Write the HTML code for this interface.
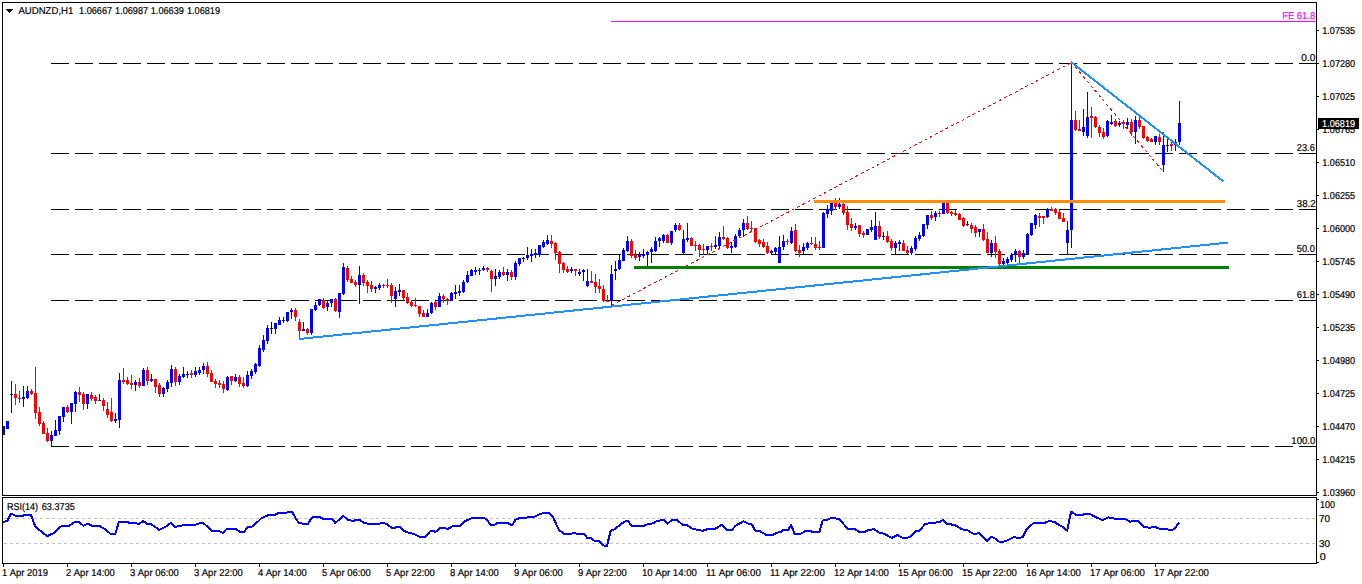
<!DOCTYPE html>
<html><head><meta charset="utf-8"><style>
html,body{margin:0;padding:0;background:#fff;overflow:hidden;}
svg{display:block;}
text{font-family:"Liberation Sans",sans-serif;text-rendering:geometricPrecision;}
</style></head><body>
<svg width="1362" height="584" viewBox="0 0 1362 584" shape-rendering="crispEdges">
<rect width="1362" height="584" fill="#fff"/>
<rect x="2" y="2" width="1315" height="1" fill="#000"/>
<rect x="2" y="495" width="1315" height="1" fill="#000"/>
<rect x="2" y="2" width="1" height="494" fill="#000"/>
<rect x="1316" y="2" width="1" height="494" fill="#000"/>
<rect x="2" y="497" width="1315" height="1" fill="#000"/>
<rect x="2" y="563" width="1315" height="1" fill="#000"/>
<rect x="2" y="497" width="1" height="67" fill="#000"/>
<rect x="1316" y="497" width="1" height="67" fill="#000"/>
<rect x="1317" y="30" width="2" height="1" fill="#000"/>
<rect x="1317" y="63" width="2" height="1" fill="#000"/>
<rect x="1317" y="96" width="2" height="1" fill="#000"/>
<rect x="1317" y="129" width="2" height="1" fill="#000"/>
<rect x="1317" y="162" width="2" height="1" fill="#000"/>
<rect x="1317" y="195" width="2" height="1" fill="#000"/>
<rect x="1317" y="228" width="2" height="1" fill="#000"/>
<rect x="1317" y="261" width="2" height="1" fill="#000"/>
<rect x="1317" y="294" width="2" height="1" fill="#000"/>
<rect x="1317" y="327" width="2" height="1" fill="#000"/>
<rect x="1317" y="360" width="2" height="1" fill="#000"/>
<rect x="1317" y="393" width="2" height="1" fill="#000"/>
<rect x="1317" y="426" width="2" height="1" fill="#000"/>
<rect x="1317" y="459" width="2" height="1" fill="#000"/>
<rect x="1317" y="492" width="2" height="1" fill="#000"/>
<rect x="1317" y="499" width="2" height="1" fill="#000"/>
<rect x="1317" y="562" width="2" height="1" fill="#000"/>
<rect x="3" y="564" width="1" height="3" fill="#000"/>
<rect x="67" y="564" width="1" height="3" fill="#000"/>
<rect x="131" y="564" width="1" height="3" fill="#000"/>
<rect x="195" y="564" width="1" height="3" fill="#000"/>
<rect x="259" y="564" width="1" height="3" fill="#000"/>
<rect x="323" y="564" width="1" height="3" fill="#000"/>
<rect x="387" y="564" width="1" height="3" fill="#000"/>
<rect x="451" y="564" width="1" height="3" fill="#000"/>
<rect x="515" y="564" width="1" height="3" fill="#000"/>
<rect x="579" y="564" width="1" height="3" fill="#000"/>
<rect x="643" y="564" width="1" height="3" fill="#000"/>
<rect x="707" y="564" width="1" height="3" fill="#000"/>
<rect x="771" y="564" width="1" height="3" fill="#000"/>
<rect x="835" y="564" width="1" height="3" fill="#000"/>
<rect x="899" y="564" width="1" height="3" fill="#000"/>
<rect x="963" y="564" width="1" height="3" fill="#000"/>
<rect x="1027" y="564" width="1" height="3" fill="#000"/>
<rect x="1091" y="564" width="1" height="3" fill="#000"/>
<rect x="1155" y="564" width="1" height="3" fill="#000"/>
<g shape-rendering="crispEdges">
<line x1="4" y1="518.5" x2="1316" y2="518.5" stroke="#c0c0c0" stroke-width="1" stroke-dasharray="3 3"/>
<line x1="4" y1="543.5" x2="1316" y2="543.5" stroke="#c0c0c0" stroke-width="1" stroke-dasharray="3 3"/>
</g>
<g shape-rendering="crispEdges">
<line x1="51" y1="63.5" x2="1316" y2="63.5" stroke="#000" stroke-width="1" stroke-dasharray="18 6"/>
<line x1="51" y1="153.5" x2="1316" y2="153.5" stroke="#000" stroke-width="1" stroke-dasharray="18 6"/>
<line x1="51" y1="209.5" x2="1316" y2="209.5" stroke="#000" stroke-width="1" stroke-dasharray="18 6"/>
<line x1="51" y1="254.5" x2="1316" y2="254.5" stroke="#000" stroke-width="1" stroke-dasharray="18 6"/>
<line x1="51" y1="300.5" x2="1316" y2="300.5" stroke="#000" stroke-width="1" stroke-dasharray="18 6"/>
<line x1="51" y1="446.5" x2="1316" y2="446.5" stroke="#000" stroke-width="1" stroke-dasharray="18 6"/>
</g>
<rect x="3" y="426" width="1" height="9" fill="#0000ff"/>
<rect x="3" y="426" width="2" height="9" fill="#0000ff"/>
<rect x="7" y="421" width="1" height="8" fill="#0000ff"/>
<rect x="6" y="421" width="3" height="8" fill="#0000ff"/>
<rect x="11" y="381" width="1" height="32" fill="#0000ff"/>
<rect x="10" y="394" width="3" height="1" fill="#0000ff"/>
<rect x="15" y="384" width="1" height="21" fill="#ff0000"/>
<rect x="14" y="394" width="3" height="4" fill="#ff0000"/>
<rect x="19" y="391" width="1" height="12" fill="#ff0000"/>
<rect x="18" y="398" width="3" height="1" fill="#ff0000"/>
<rect x="23" y="386" width="1" height="21" fill="#0000ff"/>
<rect x="22" y="397" width="3" height="2" fill="#0000ff"/>
<rect x="27" y="386" width="1" height="13" fill="#0000ff"/>
<rect x="26" y="391" width="3" height="7" fill="#0000ff"/>
<rect x="31" y="389" width="1" height="6" fill="#ff0000"/>
<rect x="30" y="391" width="3" height="3" fill="#ff0000"/>
<rect x="35" y="367" width="1" height="52" fill="#ff0000"/>
<rect x="34" y="393" width="3" height="20" fill="#ff0000"/>
<rect x="39" y="407" width="1" height="19" fill="#ff0000"/>
<rect x="38" y="412" width="3" height="12" fill="#ff0000"/>
<rect x="43" y="421" width="1" height="13" fill="#ff0000"/>
<rect x="42" y="423" width="3" height="11" fill="#ff0000"/>
<rect x="47" y="428" width="1" height="14" fill="#ff0000"/>
<rect x="46" y="433" width="3" height="8" fill="#ff0000"/>
<rect x="51" y="431" width="1" height="15" fill="#0000ff"/>
<rect x="50" y="435" width="3" height="6" fill="#0000ff"/>
<rect x="55" y="420" width="1" height="16" fill="#0000ff"/>
<rect x="54" y="430" width="3" height="6" fill="#0000ff"/>
<rect x="59" y="416" width="1" height="19" fill="#0000ff"/>
<rect x="58" y="416" width="3" height="15" fill="#0000ff"/>
<rect x="63" y="407" width="1" height="15" fill="#0000ff"/>
<rect x="62" y="407" width="3" height="10" fill="#0000ff"/>
<rect x="67" y="405" width="1" height="8" fill="#ff0000"/>
<rect x="66" y="407" width="3" height="5" fill="#ff0000"/>
<rect x="71" y="403" width="1" height="21" fill="#0000ff"/>
<rect x="70" y="403" width="3" height="9" fill="#0000ff"/>
<rect x="75" y="391" width="1" height="21" fill="#0000ff"/>
<rect x="74" y="392" width="3" height="12" fill="#0000ff"/>
<rect x="79" y="387" width="1" height="15" fill="#ff0000"/>
<rect x="78" y="392" width="3" height="3" fill="#ff0000"/>
<rect x="83" y="392" width="1" height="18" fill="#ff0000"/>
<rect x="82" y="394" width="3" height="10" fill="#ff0000"/>
<rect x="87" y="394" width="1" height="15" fill="#0000ff"/>
<rect x="86" y="394" width="3" height="10" fill="#0000ff"/>
<rect x="91" y="392" width="1" height="9" fill="#ff0000"/>
<rect x="90" y="395" width="3" height="4" fill="#ff0000"/>
<rect x="95" y="395" width="1" height="9" fill="#ff0000"/>
<rect x="94" y="397" width="3" height="4" fill="#ff0000"/>
<rect x="99" y="394" width="1" height="7" fill="#0000ff"/>
<rect x="98" y="400" width="3" height="1" fill="#0000ff"/>
<rect x="103" y="398" width="1" height="13" fill="#ff0000"/>
<rect x="102" y="400" width="3" height="6" fill="#ff0000"/>
<rect x="107" y="402" width="1" height="16" fill="#ff0000"/>
<rect x="106" y="409" width="3" height="6" fill="#ff0000"/>
<rect x="111" y="398" width="1" height="24" fill="#ff0000"/>
<rect x="110" y="412" width="3" height="9" fill="#ff0000"/>
<rect x="115" y="413" width="1" height="10" fill="#0000ff"/>
<rect x="114" y="419" width="3" height="2" fill="#0000ff"/>
<rect x="119" y="373" width="1" height="55" fill="#0000ff"/>
<rect x="118" y="380" width="3" height="40" fill="#0000ff"/>
<rect x="123" y="368" width="1" height="16" fill="#ff0000"/>
<rect x="122" y="380" width="3" height="2" fill="#ff0000"/>
<rect x="127" y="377" width="1" height="8" fill="#ff0000"/>
<rect x="126" y="380" width="3" height="4" fill="#ff0000"/>
<rect x="131" y="375" width="1" height="14" fill="#ff0000"/>
<rect x="130" y="383" width="3" height="2" fill="#ff0000"/>
<rect x="135" y="380" width="1" height="11" fill="#0000ff"/>
<rect x="134" y="382" width="3" height="3" fill="#0000ff"/>
<rect x="139" y="378" width="1" height="10" fill="#ff0000"/>
<rect x="138" y="382" width="3" height="4" fill="#ff0000"/>
<rect x="143" y="368" width="1" height="18" fill="#0000ff"/>
<rect x="142" y="370" width="3" height="16" fill="#0000ff"/>
<rect x="147" y="367" width="1" height="18" fill="#ff0000"/>
<rect x="146" y="370" width="3" height="11" fill="#ff0000"/>
<rect x="151" y="374" width="1" height="8" fill="#0000ff"/>
<rect x="150" y="379" width="3" height="2" fill="#0000ff"/>
<rect x="155" y="379" width="1" height="14" fill="#ff0000"/>
<rect x="154" y="379" width="3" height="8" fill="#ff0000"/>
<rect x="159" y="383" width="1" height="14" fill="#ff0000"/>
<rect x="158" y="385" width="3" height="9" fill="#ff0000"/>
<rect x="163" y="387" width="1" height="10" fill="#0000ff"/>
<rect x="162" y="388" width="3" height="6" fill="#0000ff"/>
<rect x="167" y="380" width="1" height="12" fill="#0000ff"/>
<rect x="166" y="382" width="3" height="7" fill="#0000ff"/>
<rect x="171" y="365" width="1" height="22" fill="#0000ff"/>
<rect x="170" y="369" width="3" height="14" fill="#0000ff"/>
<rect x="175" y="367" width="1" height="19" fill="#ff0000"/>
<rect x="174" y="369" width="3" height="13" fill="#ff0000"/>
<rect x="179" y="374" width="1" height="11" fill="#0000ff"/>
<rect x="178" y="376" width="3" height="6" fill="#0000ff"/>
<rect x="183" y="367" width="1" height="11" fill="#0000ff"/>
<rect x="182" y="374" width="3" height="3" fill="#0000ff"/>
<rect x="187" y="371" width="1" height="7" fill="#0000ff"/>
<rect x="186" y="374" width="3" height="1" fill="#0000ff"/>
<rect x="191" y="370" width="1" height="8" fill="#ff0000"/>
<rect x="190" y="373" width="3" height="2" fill="#ff0000"/>
<rect x="195" y="367" width="1" height="10" fill="#0000ff"/>
<rect x="194" y="371" width="3" height="4" fill="#0000ff"/>
<rect x="199" y="367" width="1" height="8" fill="#0000ff"/>
<rect x="198" y="370" width="3" height="3" fill="#0000ff"/>
<rect x="203" y="363" width="1" height="11" fill="#0000ff"/>
<rect x="202" y="366" width="3" height="4" fill="#0000ff"/>
<rect x="207" y="362" width="1" height="15" fill="#ff0000"/>
<rect x="206" y="366" width="3" height="8" fill="#ff0000"/>
<rect x="211" y="370" width="1" height="12" fill="#ff0000"/>
<rect x="210" y="373" width="3" height="9" fill="#ff0000"/>
<rect x="215" y="379" width="1" height="9" fill="#ff0000"/>
<rect x="214" y="381" width="3" height="3" fill="#ff0000"/>
<rect x="219" y="380" width="1" height="8" fill="#ff0000"/>
<rect x="218" y="383" width="3" height="2" fill="#ff0000"/>
<rect x="223" y="381" width="1" height="12" fill="#ff0000"/>
<rect x="222" y="384" width="3" height="5" fill="#ff0000"/>
<rect x="227" y="376" width="1" height="15" fill="#0000ff"/>
<rect x="226" y="377" width="3" height="13" fill="#0000ff"/>
<rect x="231" y="376" width="1" height="9" fill="#ff0000"/>
<rect x="230" y="376" width="3" height="5" fill="#ff0000"/>
<rect x="235" y="374" width="1" height="8" fill="#0000ff"/>
<rect x="234" y="377" width="3" height="4" fill="#0000ff"/>
<rect x="239" y="375" width="1" height="12" fill="#ff0000"/>
<rect x="238" y="377" width="3" height="7" fill="#ff0000"/>
<rect x="243" y="377" width="1" height="11" fill="#ff0000"/>
<rect x="242" y="383" width="3" height="3" fill="#ff0000"/>
<rect x="247" y="371" width="1" height="16" fill="#0000ff"/>
<rect x="246" y="375" width="3" height="11" fill="#0000ff"/>
<rect x="251" y="369" width="1" height="10" fill="#0000ff"/>
<rect x="250" y="371" width="3" height="5" fill="#0000ff"/>
<rect x="255" y="363" width="1" height="11" fill="#0000ff"/>
<rect x="254" y="364" width="3" height="8" fill="#0000ff"/>
<rect x="259" y="345" width="1" height="22" fill="#0000ff"/>
<rect x="258" y="348" width="3" height="18" fill="#0000ff"/>
<rect x="263" y="335" width="1" height="17" fill="#0000ff"/>
<rect x="262" y="340" width="3" height="10" fill="#0000ff"/>
<rect x="267" y="325" width="1" height="19" fill="#0000ff"/>
<rect x="266" y="328" width="3" height="13" fill="#0000ff"/>
<rect x="271" y="322" width="1" height="12" fill="#000000"/>
<rect x="270" y="328" width="3" height="1" fill="#000000"/>
<rect x="275" y="323" width="1" height="11" fill="#0000ff"/>
<rect x="274" y="323" width="3" height="6" fill="#0000ff"/>
<rect x="279" y="317" width="1" height="8" fill="#0000ff"/>
<rect x="278" y="320" width="3" height="5" fill="#0000ff"/>
<rect x="283" y="317" width="1" height="6" fill="#0000ff"/>
<rect x="282" y="320" width="3" height="1" fill="#0000ff"/>
<rect x="287" y="312" width="1" height="10" fill="#0000ff"/>
<rect x="286" y="312" width="3" height="9" fill="#0000ff"/>
<rect x="291" y="308" width="1" height="11" fill="#0000ff"/>
<rect x="290" y="310" width="3" height="2" fill="#0000ff"/>
<rect x="295" y="308" width="1" height="13" fill="#ff0000"/>
<rect x="294" y="310" width="3" height="7" fill="#ff0000"/>
<rect x="299" y="319" width="1" height="20" fill="#ff0000"/>
<rect x="298" y="322" width="3" height="9" fill="#ff0000"/>
<rect x="303" y="322" width="1" height="8" fill="#0000ff"/>
<rect x="302" y="329" width="3" height="2" fill="#0000ff"/>
<rect x="307" y="328" width="1" height="7" fill="#ff0000"/>
<rect x="306" y="329" width="3" height="4" fill="#ff0000"/>
<rect x="311" y="309" width="1" height="26" fill="#0000ff"/>
<rect x="310" y="309" width="3" height="24" fill="#0000ff"/>
<rect x="315" y="302" width="1" height="9" fill="#0000ff"/>
<rect x="314" y="305" width="3" height="5" fill="#0000ff"/>
<rect x="319" y="299" width="1" height="7" fill="#0000ff"/>
<rect x="318" y="299" width="3" height="6" fill="#0000ff"/>
<rect x="323" y="298" width="1" height="11" fill="#ff0000"/>
<rect x="322" y="300" width="3" height="8" fill="#ff0000"/>
<rect x="327" y="300" width="1" height="11" fill="#0000ff"/>
<rect x="326" y="303" width="3" height="4" fill="#0000ff"/>
<rect x="331" y="299" width="1" height="8" fill="#0000ff"/>
<rect x="330" y="299" width="3" height="4" fill="#0000ff"/>
<rect x="335" y="298" width="1" height="14" fill="#ff0000"/>
<rect x="334" y="299" width="3" height="12" fill="#ff0000"/>
<rect x="339" y="293" width="1" height="25" fill="#0000ff"/>
<rect x="338" y="293" width="3" height="19" fill="#0000ff"/>
<rect x="343" y="263" width="1" height="32" fill="#0000ff"/>
<rect x="342" y="267" width="3" height="27" fill="#0000ff"/>
<rect x="347" y="266" width="1" height="16" fill="#ff0000"/>
<rect x="346" y="268" width="3" height="12" fill="#ff0000"/>
<rect x="351" y="276" width="1" height="7" fill="#ff0000"/>
<rect x="350" y="279" width="3" height="4" fill="#ff0000"/>
<rect x="355" y="280" width="1" height="7" fill="#ff0000"/>
<rect x="354" y="282" width="3" height="3" fill="#ff0000"/>
<rect x="359" y="266" width="1" height="38" fill="#0000ff"/>
<rect x="358" y="275" width="3" height="10" fill="#0000ff"/>
<rect x="363" y="273" width="1" height="13" fill="#ff0000"/>
<rect x="362" y="275" width="3" height="8" fill="#ff0000"/>
<rect x="367" y="280" width="1" height="13" fill="#ff0000"/>
<rect x="366" y="282" width="3" height="4" fill="#ff0000"/>
<rect x="371" y="281" width="1" height="11" fill="#ff0000"/>
<rect x="370" y="285" width="3" height="4" fill="#ff0000"/>
<rect x="375" y="286" width="1" height="7" fill="#0000ff"/>
<rect x="374" y="287" width="3" height="2" fill="#0000ff"/>
<rect x="379" y="283" width="1" height="7" fill="#0000ff"/>
<rect x="378" y="285" width="3" height="3" fill="#0000ff"/>
<rect x="383" y="284" width="1" height="4" fill="#ff0000"/>
<rect x="382" y="285" width="3" height="1" fill="#ff0000"/>
<rect x="387" y="279" width="1" height="9" fill="#ff0000"/>
<rect x="386" y="285" width="3" height="1" fill="#ff0000"/>
<rect x="391" y="283" width="1" height="20" fill="#ff0000"/>
<rect x="390" y="285" width="3" height="11" fill="#ff0000"/>
<rect x="395" y="287" width="1" height="20" fill="#0000ff"/>
<rect x="394" y="291" width="3" height="8" fill="#0000ff"/>
<rect x="399" y="284" width="1" height="12" fill="#0000ff"/>
<rect x="398" y="290" width="3" height="2" fill="#0000ff"/>
<rect x="403" y="290" width="1" height="10" fill="#ff0000"/>
<rect x="402" y="290" width="3" height="8" fill="#ff0000"/>
<rect x="407" y="293" width="1" height="11" fill="#ff0000"/>
<rect x="406" y="297" width="3" height="6" fill="#ff0000"/>
<rect x="411" y="300" width="1" height="7" fill="#ff0000"/>
<rect x="410" y="302" width="3" height="4" fill="#ff0000"/>
<rect x="415" y="298" width="1" height="9" fill="#ff0000"/>
<rect x="414" y="305" width="3" height="1" fill="#ff0000"/>
<rect x="419" y="306" width="1" height="11" fill="#ff0000"/>
<rect x="418" y="306" width="3" height="8" fill="#ff0000"/>
<rect x="423" y="310" width="1" height="7" fill="#ff0000"/>
<rect x="422" y="313" width="3" height="4" fill="#ff0000"/>
<rect x="427" y="309" width="1" height="8" fill="#0000ff"/>
<rect x="426" y="313" width="3" height="4" fill="#0000ff"/>
<rect x="431" y="302" width="1" height="12" fill="#0000ff"/>
<rect x="430" y="303" width="3" height="10" fill="#0000ff"/>
<rect x="435" y="301" width="1" height="9" fill="#ff0000"/>
<rect x="434" y="302" width="3" height="5" fill="#ff0000"/>
<rect x="439" y="293" width="1" height="14" fill="#0000ff"/>
<rect x="438" y="296" width="3" height="11" fill="#0000ff"/>
<rect x="443" y="294" width="1" height="9" fill="#ff0000"/>
<rect x="442" y="296" width="3" height="3" fill="#ff0000"/>
<rect x="447" y="298" width="1" height="7" fill="#ff0000"/>
<rect x="446" y="299" width="3" height="2" fill="#ff0000"/>
<rect x="451" y="292" width="1" height="9" fill="#0000ff"/>
<rect x="450" y="293" width="3" height="8" fill="#0000ff"/>
<rect x="455" y="285" width="1" height="14" fill="#0000ff"/>
<rect x="454" y="292" width="3" height="2" fill="#0000ff"/>
<rect x="459" y="285" width="1" height="11" fill="#0000ff"/>
<rect x="458" y="291" width="3" height="2" fill="#0000ff"/>
<rect x="463" y="280" width="1" height="13" fill="#0000ff"/>
<rect x="462" y="282" width="3" height="10" fill="#0000ff"/>
<rect x="467" y="271" width="1" height="12" fill="#0000ff"/>
<rect x="466" y="275" width="3" height="7" fill="#0000ff"/>
<rect x="471" y="269" width="1" height="7" fill="#0000ff"/>
<rect x="470" y="270" width="3" height="6" fill="#0000ff"/>
<rect x="475" y="267" width="1" height="8" fill="#0000ff"/>
<rect x="474" y="270" width="3" height="2" fill="#0000ff"/>
<rect x="479" y="268" width="1" height="7" fill="#0000ff"/>
<rect x="478" y="270" width="3" height="1" fill="#0000ff"/>
<rect x="483" y="266" width="1" height="5" fill="#0000ff"/>
<rect x="482" y="268" width="3" height="2" fill="#0000ff"/>
<rect x="487" y="267" width="1" height="5" fill="#ff0000"/>
<rect x="486" y="268" width="3" height="2" fill="#ff0000"/>
<rect x="491" y="270" width="1" height="22" fill="#ff0000"/>
<rect x="490" y="271" width="3" height="8" fill="#ff0000"/>
<rect x="495" y="269" width="1" height="17" fill="#0000ff"/>
<rect x="494" y="276" width="3" height="3" fill="#0000ff"/>
<rect x="499" y="270" width="1" height="9" fill="#0000ff"/>
<rect x="498" y="272" width="3" height="5" fill="#0000ff"/>
<rect x="503" y="267" width="1" height="9" fill="#ff0000"/>
<rect x="502" y="272" width="3" height="3" fill="#ff0000"/>
<rect x="507" y="269" width="1" height="12" fill="#0000ff"/>
<rect x="506" y="272" width="3" height="3" fill="#0000ff"/>
<rect x="511" y="270" width="1" height="10" fill="#ff0000"/>
<rect x="510" y="272" width="3" height="5" fill="#ff0000"/>
<rect x="515" y="261" width="1" height="19" fill="#0000ff"/>
<rect x="514" y="263" width="3" height="14" fill="#0000ff"/>
<rect x="519" y="258" width="1" height="8" fill="#0000ff"/>
<rect x="518" y="258" width="3" height="6" fill="#0000ff"/>
<rect x="523" y="257" width="1" height="5" fill="#0000ff"/>
<rect x="522" y="258" width="3" height="1" fill="#0000ff"/>
<rect x="527" y="247" width="1" height="13" fill="#0000ff"/>
<rect x="526" y="255" width="3" height="3" fill="#0000ff"/>
<rect x="531" y="249" width="1" height="13" fill="#0000ff"/>
<rect x="530" y="254" width="3" height="2" fill="#0000ff"/>
<rect x="535" y="249" width="1" height="9" fill="#0000ff"/>
<rect x="534" y="253" width="3" height="2" fill="#0000ff"/>
<rect x="539" y="245" width="1" height="12" fill="#0000ff"/>
<rect x="538" y="245" width="3" height="10" fill="#0000ff"/>
<rect x="543" y="240" width="1" height="8" fill="#0000ff"/>
<rect x="542" y="242" width="3" height="5" fill="#0000ff"/>
<rect x="547" y="235" width="1" height="10" fill="#0000ff"/>
<rect x="546" y="240" width="3" height="4" fill="#0000ff"/>
<rect x="551" y="235" width="1" height="13" fill="#ff0000"/>
<rect x="550" y="241" width="3" height="3" fill="#ff0000"/>
<rect x="555" y="242" width="1" height="18" fill="#ff0000"/>
<rect x="554" y="243" width="3" height="10" fill="#ff0000"/>
<rect x="559" y="251" width="1" height="22" fill="#ff0000"/>
<rect x="558" y="252" width="3" height="12" fill="#ff0000"/>
<rect x="563" y="262" width="1" height="11" fill="#ff0000"/>
<rect x="562" y="263" width="3" height="7" fill="#ff0000"/>
<rect x="567" y="266" width="1" height="7" fill="#ff0000"/>
<rect x="566" y="269" width="3" height="3" fill="#ff0000"/>
<rect x="571" y="267" width="1" height="6" fill="#0000ff"/>
<rect x="570" y="269" width="3" height="2" fill="#0000ff"/>
<rect x="575" y="269" width="1" height="7" fill="#ff0000"/>
<rect x="574" y="269" width="3" height="2" fill="#ff0000"/>
<rect x="579" y="269" width="1" height="7" fill="#0000ff"/>
<rect x="578" y="272" width="3" height="2" fill="#0000ff"/>
<rect x="583" y="269" width="1" height="12" fill="#0000ff"/>
<rect x="582" y="270" width="3" height="2" fill="#0000ff"/>
<rect x="587" y="269" width="1" height="18" fill="#0000ff"/>
<rect x="586" y="281" width="3" height="5" fill="#0000ff"/>
<rect x="591" y="271" width="1" height="12" fill="#ff0000"/>
<rect x="590" y="281" width="3" height="2" fill="#ff0000"/>
<rect x="595" y="274" width="1" height="19" fill="#ff0000"/>
<rect x="594" y="282" width="3" height="5" fill="#ff0000"/>
<rect x="599" y="279" width="1" height="14" fill="#ff0000"/>
<rect x="598" y="286" width="3" height="3" fill="#ff0000"/>
<rect x="603" y="285" width="1" height="17" fill="#ff0000"/>
<rect x="602" y="289" width="3" height="12" fill="#ff0000"/>
<rect x="607" y="295" width="1" height="7" fill="#ff0000"/>
<rect x="606" y="301" width="3" height="1" fill="#ff0000"/>
<rect x="611" y="265" width="1" height="41" fill="#0000ff"/>
<rect x="610" y="274" width="3" height="27" fill="#0000ff"/>
<rect x="615" y="261" width="1" height="19" fill="#0000ff"/>
<rect x="614" y="269" width="3" height="2" fill="#0000ff"/>
<rect x="619" y="255" width="1" height="15" fill="#0000ff"/>
<rect x="618" y="260" width="3" height="9" fill="#0000ff"/>
<rect x="623" y="248" width="1" height="13" fill="#0000ff"/>
<rect x="622" y="250" width="3" height="11" fill="#0000ff"/>
<rect x="627" y="236" width="1" height="16" fill="#0000ff"/>
<rect x="626" y="241" width="3" height="10" fill="#0000ff"/>
<rect x="631" y="239" width="1" height="19" fill="#ff0000"/>
<rect x="630" y="241" width="3" height="15" fill="#ff0000"/>
<rect x="635" y="250" width="1" height="10" fill="#ff0000"/>
<rect x="634" y="255" width="3" height="3" fill="#ff0000"/>
<rect x="639" y="252" width="1" height="9" fill="#0000ff"/>
<rect x="638" y="255" width="3" height="2" fill="#0000ff"/>
<rect x="643" y="249" width="1" height="9" fill="#0000ff"/>
<rect x="642" y="254" width="3" height="2" fill="#0000ff"/>
<rect x="647" y="251" width="1" height="15" fill="#0000ff"/>
<rect x="646" y="252" width="3" height="3" fill="#0000ff"/>
<rect x="651" y="247" width="1" height="16" fill="#0000ff"/>
<rect x="650" y="249" width="3" height="3" fill="#0000ff"/>
<rect x="655" y="237" width="1" height="15" fill="#0000ff"/>
<rect x="654" y="241" width="3" height="10" fill="#0000ff"/>
<rect x="659" y="237" width="1" height="10" fill="#0000ff"/>
<rect x="658" y="238" width="3" height="3" fill="#0000ff"/>
<rect x="663" y="234" width="1" height="9" fill="#0000ff"/>
<rect x="662" y="235" width="3" height="6" fill="#0000ff"/>
<rect x="667" y="234" width="1" height="9" fill="#ff0000"/>
<rect x="666" y="235" width="3" height="8" fill="#ff0000"/>
<rect x="671" y="231" width="1" height="14" fill="#0000ff"/>
<rect x="670" y="231" width="3" height="12" fill="#0000ff"/>
<rect x="675" y="223" width="1" height="9" fill="#0000ff"/>
<rect x="674" y="225" width="3" height="5" fill="#0000ff"/>
<rect x="679" y="223" width="1" height="8" fill="#ff0000"/>
<rect x="678" y="225" width="3" height="5" fill="#ff0000"/>
<rect x="683" y="230" width="1" height="25" fill="#0000ff"/>
<rect x="682" y="239" width="3" height="14" fill="#0000ff"/>
<rect x="687" y="223" width="1" height="19" fill="#0000ff"/>
<rect x="686" y="238" width="3" height="2" fill="#0000ff"/>
<rect x="691" y="237" width="1" height="9" fill="#ff0000"/>
<rect x="690" y="238" width="3" height="8" fill="#ff0000"/>
<rect x="695" y="241" width="1" height="10" fill="#ff0000"/>
<rect x="694" y="245" width="3" height="1" fill="#ff0000"/>
<rect x="699" y="244" width="1" height="13" fill="#ff0000"/>
<rect x="698" y="245" width="3" height="5" fill="#ff0000"/>
<rect x="703" y="244" width="1" height="11" fill="#ff0000"/>
<rect x="702" y="249" width="3" height="1" fill="#ff0000"/>
<rect x="707" y="246" width="1" height="8" fill="#0000ff"/>
<rect x="706" y="246" width="3" height="4" fill="#0000ff"/>
<rect x="711" y="243" width="1" height="8" fill="#ff0000"/>
<rect x="710" y="246" width="3" height="1" fill="#ff0000"/>
<rect x="715" y="236" width="1" height="13" fill="#0000ff"/>
<rect x="714" y="245" width="3" height="2" fill="#0000ff"/>
<rect x="719" y="232" width="1" height="16" fill="#0000ff"/>
<rect x="718" y="237" width="3" height="9" fill="#0000ff"/>
<rect x="723" y="226" width="1" height="14" fill="#ff0000"/>
<rect x="722" y="237" width="3" height="2" fill="#ff0000"/>
<rect x="727" y="237" width="1" height="12" fill="#ff0000"/>
<rect x="726" y="238" width="3" height="10" fill="#ff0000"/>
<rect x="731" y="242" width="1" height="11" fill="#0000ff"/>
<rect x="730" y="246" width="3" height="2" fill="#0000ff"/>
<rect x="735" y="234" width="1" height="14" fill="#0000ff"/>
<rect x="734" y="236" width="3" height="11" fill="#0000ff"/>
<rect x="739" y="228" width="1" height="9" fill="#0000ff"/>
<rect x="738" y="230" width="3" height="6" fill="#0000ff"/>
<rect x="743" y="219" width="1" height="18" fill="#0000ff"/>
<rect x="742" y="223" width="3" height="7" fill="#0000ff"/>
<rect x="747" y="216" width="1" height="14" fill="#ff0000"/>
<rect x="746" y="223" width="3" height="6" fill="#ff0000"/>
<rect x="751" y="221" width="1" height="11" fill="#ff0000"/>
<rect x="750" y="228" width="3" height="1" fill="#ff0000"/>
<rect x="755" y="228" width="1" height="15" fill="#ff0000"/>
<rect x="754" y="228" width="3" height="14" fill="#ff0000"/>
<rect x="759" y="239" width="1" height="8" fill="#ff0000"/>
<rect x="758" y="240" width="3" height="4" fill="#ff0000"/>
<rect x="763" y="239" width="1" height="9" fill="#ff0000"/>
<rect x="762" y="242" width="3" height="5" fill="#ff0000"/>
<rect x="767" y="242" width="1" height="12" fill="#ff0000"/>
<rect x="766" y="246" width="3" height="7" fill="#ff0000"/>
<rect x="771" y="250" width="1" height="4" fill="#0000ff"/>
<rect x="770" y="251" width="3" height="2" fill="#0000ff"/>
<rect x="775" y="247" width="1" height="7" fill="#0000ff"/>
<rect x="774" y="248" width="3" height="4" fill="#0000ff"/>
<rect x="779" y="236" width="1" height="27" fill="#0000ff"/>
<rect x="778" y="247" width="3" height="16" fill="#0000ff"/>
<rect x="783" y="235" width="1" height="15" fill="#0000ff"/>
<rect x="782" y="241" width="3" height="6" fill="#0000ff"/>
<rect x="787" y="239" width="1" height="6" fill="#ff0000"/>
<rect x="786" y="241" width="3" height="1" fill="#ff0000"/>
<rect x="791" y="227" width="1" height="17" fill="#0000ff"/>
<rect x="790" y="231" width="3" height="12" fill="#0000ff"/>
<rect x="795" y="224" width="1" height="28" fill="#ff0000"/>
<rect x="794" y="230" width="3" height="21" fill="#ff0000"/>
<rect x="799" y="245" width="1" height="12" fill="#ff0000"/>
<rect x="798" y="250" width="3" height="3" fill="#ff0000"/>
<rect x="803" y="243" width="1" height="11" fill="#0000ff"/>
<rect x="802" y="247" width="3" height="4" fill="#0000ff"/>
<rect x="807" y="242" width="1" height="8" fill="#0000ff"/>
<rect x="806" y="243" width="3" height="5" fill="#0000ff"/>
<rect x="811" y="237" width="1" height="8" fill="#ff0000"/>
<rect x="810" y="243" width="3" height="1" fill="#ff0000"/>
<rect x="815" y="237" width="1" height="13" fill="#ff0000"/>
<rect x="814" y="244" width="3" height="4" fill="#ff0000"/>
<rect x="819" y="241" width="1" height="9" fill="#ff0000"/>
<rect x="818" y="247" width="3" height="1" fill="#ff0000"/>
<rect x="823" y="212" width="1" height="36" fill="#0000ff"/>
<rect x="822" y="213" width="3" height="35" fill="#0000ff"/>
<rect x="827" y="205" width="1" height="13" fill="#0000ff"/>
<rect x="826" y="209" width="3" height="5" fill="#0000ff"/>
<rect x="831" y="203" width="1" height="12" fill="#0000ff"/>
<rect x="830" y="203" width="3" height="8" fill="#0000ff"/>
<rect x="835" y="198" width="1" height="12" fill="#ff0000"/>
<rect x="834" y="202" width="3" height="5" fill="#ff0000"/>
<rect x="839" y="198" width="1" height="11" fill="#0000ff"/>
<rect x="838" y="204" width="3" height="3" fill="#0000ff"/>
<rect x="843" y="203" width="1" height="12" fill="#ff0000"/>
<rect x="842" y="204" width="3" height="9" fill="#ff0000"/>
<rect x="847" y="206" width="1" height="24" fill="#ff0000"/>
<rect x="846" y="212" width="3" height="13" fill="#ff0000"/>
<rect x="851" y="218" width="1" height="13" fill="#ff0000"/>
<rect x="850" y="224" width="3" height="4" fill="#ff0000"/>
<rect x="855" y="223" width="1" height="7" fill="#0000ff"/>
<rect x="854" y="226" width="3" height="2" fill="#0000ff"/>
<rect x="859" y="225" width="1" height="12" fill="#ff0000"/>
<rect x="858" y="225" width="3" height="9" fill="#ff0000"/>
<rect x="863" y="231" width="1" height="7" fill="#ff0000"/>
<rect x="862" y="233" width="3" height="2" fill="#ff0000"/>
<rect x="867" y="229" width="1" height="6" fill="#0000ff"/>
<rect x="866" y="229" width="3" height="6" fill="#0000ff"/>
<rect x="871" y="220" width="1" height="12" fill="#0000ff"/>
<rect x="870" y="227" width="3" height="3" fill="#0000ff"/>
<rect x="875" y="212" width="1" height="28" fill="#0000ff"/>
<rect x="874" y="226" width="3" height="14" fill="#0000ff"/>
<rect x="879" y="221" width="1" height="18" fill="#ff0000"/>
<rect x="878" y="226" width="3" height="11" fill="#ff0000"/>
<rect x="883" y="232" width="1" height="8" fill="#0000ff"/>
<rect x="882" y="236" width="3" height="1" fill="#0000ff"/>
<rect x="887" y="231" width="1" height="12" fill="#ff0000"/>
<rect x="886" y="236" width="3" height="6" fill="#ff0000"/>
<rect x="891" y="239" width="1" height="12" fill="#ff0000"/>
<rect x="890" y="241" width="3" height="7" fill="#ff0000"/>
<rect x="895" y="241" width="1" height="13" fill="#0000ff"/>
<rect x="894" y="243" width="3" height="5" fill="#0000ff"/>
<rect x="899" y="240" width="1" height="11" fill="#0000ff"/>
<rect x="898" y="242" width="3" height="2" fill="#0000ff"/>
<rect x="903" y="240" width="1" height="11" fill="#ff0000"/>
<rect x="902" y="243" width="3" height="8" fill="#ff0000"/>
<rect x="907" y="246" width="1" height="8" fill="#ff0000"/>
<rect x="906" y="250" width="3" height="3" fill="#ff0000"/>
<rect x="911" y="246" width="1" height="9" fill="#0000ff"/>
<rect x="910" y="248" width="3" height="5" fill="#0000ff"/>
<rect x="915" y="236" width="1" height="15" fill="#0000ff"/>
<rect x="914" y="238" width="3" height="11" fill="#0000ff"/>
<rect x="919" y="232" width="1" height="9" fill="#0000ff"/>
<rect x="918" y="235" width="3" height="4" fill="#0000ff"/>
<rect x="923" y="224" width="1" height="13" fill="#0000ff"/>
<rect x="922" y="224" width="3" height="12" fill="#0000ff"/>
<rect x="927" y="215" width="1" height="14" fill="#0000ff"/>
<rect x="926" y="215" width="3" height="10" fill="#0000ff"/>
<rect x="931" y="211" width="1" height="9" fill="#ff0000"/>
<rect x="930" y="215" width="3" height="3" fill="#ff0000"/>
<rect x="935" y="211" width="1" height="10" fill="#0000ff"/>
<rect x="934" y="213" width="3" height="4" fill="#0000ff"/>
<rect x="939" y="211" width="1" height="6" fill="#ff0000"/>
<rect x="938" y="213" width="3" height="1" fill="#ff0000"/>
<rect x="943" y="203" width="1" height="11" fill="#0000ff"/>
<rect x="942" y="203" width="3" height="11" fill="#0000ff"/>
<rect x="947" y="203" width="1" height="11" fill="#ff0000"/>
<rect x="946" y="203" width="3" height="10" fill="#ff0000"/>
<rect x="951" y="211" width="1" height="5" fill="#ff0000"/>
<rect x="950" y="212" width="3" height="2" fill="#ff0000"/>
<rect x="955" y="210" width="1" height="6" fill="#ff0000"/>
<rect x="954" y="213" width="3" height="2" fill="#ff0000"/>
<rect x="959" y="213" width="1" height="7" fill="#ff0000"/>
<rect x="958" y="214" width="3" height="6" fill="#ff0000"/>
<rect x="963" y="217" width="1" height="10" fill="#ff0000"/>
<rect x="962" y="218" width="3" height="8" fill="#ff0000"/>
<rect x="967" y="221" width="1" height="5" fill="#0000ff"/>
<rect x="966" y="224" width="3" height="1" fill="#0000ff"/>
<rect x="971" y="223" width="1" height="10" fill="#ff0000"/>
<rect x="970" y="225" width="3" height="4" fill="#ff0000"/>
<rect x="975" y="225" width="1" height="12" fill="#ff0000"/>
<rect x="974" y="227" width="3" height="6" fill="#ff0000"/>
<rect x="979" y="229" width="1" height="8" fill="#0000ff"/>
<rect x="978" y="229" width="3" height="3" fill="#0000ff"/>
<rect x="983" y="224" width="1" height="17" fill="#ff0000"/>
<rect x="982" y="229" width="3" height="11" fill="#ff0000"/>
<rect x="987" y="232" width="1" height="21" fill="#ff0000"/>
<rect x="986" y="239" width="3" height="14" fill="#ff0000"/>
<rect x="991" y="240" width="1" height="17" fill="#0000ff"/>
<rect x="990" y="243" width="3" height="10" fill="#0000ff"/>
<rect x="995" y="236" width="1" height="22" fill="#ff0000"/>
<rect x="994" y="243" width="3" height="9" fill="#ff0000"/>
<rect x="999" y="249" width="1" height="16" fill="#ff0000"/>
<rect x="998" y="251" width="3" height="13" fill="#ff0000"/>
<rect x="1003" y="258" width="1" height="7" fill="#0000ff"/>
<rect x="1002" y="261" width="3" height="3" fill="#0000ff"/>
<rect x="1007" y="257" width="1" height="7" fill="#0000ff"/>
<rect x="1006" y="259" width="3" height="4" fill="#0000ff"/>
<rect x="1011" y="253" width="1" height="9" fill="#0000ff"/>
<rect x="1010" y="255" width="3" height="5" fill="#0000ff"/>
<rect x="1015" y="249" width="1" height="13" fill="#0000ff"/>
<rect x="1014" y="251" width="3" height="4" fill="#0000ff"/>
<rect x="1019" y="250" width="1" height="13" fill="#ff0000"/>
<rect x="1018" y="251" width="3" height="6" fill="#ff0000"/>
<rect x="1023" y="250" width="1" height="9" fill="#0000ff"/>
<rect x="1022" y="253" width="3" height="4" fill="#0000ff"/>
<rect x="1027" y="233" width="1" height="22" fill="#0000ff"/>
<rect x="1026" y="234" width="3" height="20" fill="#0000ff"/>
<rect x="1031" y="223" width="1" height="13" fill="#0000ff"/>
<rect x="1030" y="223" width="3" height="12" fill="#0000ff"/>
<rect x="1035" y="214" width="1" height="15" fill="#0000ff"/>
<rect x="1034" y="215" width="3" height="10" fill="#0000ff"/>
<rect x="1039" y="213" width="1" height="14" fill="#ff0000"/>
<rect x="1038" y="216" width="3" height="2" fill="#ff0000"/>
<rect x="1043" y="216" width="1" height="8" fill="#ff0000"/>
<rect x="1042" y="216" width="3" height="2" fill="#ff0000"/>
<rect x="1047" y="208" width="1" height="10" fill="#0000ff"/>
<rect x="1046" y="209" width="3" height="8" fill="#0000ff"/>
<rect x="1051" y="207" width="1" height="4" fill="#ff0000"/>
<rect x="1050" y="209" width="3" height="2" fill="#ff0000"/>
<rect x="1055" y="208" width="1" height="7" fill="#ff0000"/>
<rect x="1054" y="209" width="3" height="4" fill="#ff0000"/>
<rect x="1059" y="210" width="1" height="9" fill="#ff0000"/>
<rect x="1058" y="212" width="3" height="7" fill="#ff0000"/>
<rect x="1063" y="213" width="1" height="9" fill="#ff0000"/>
<rect x="1062" y="218" width="3" height="4" fill="#ff0000"/>
<rect x="1067" y="221" width="1" height="34" fill="#0000ff"/>
<rect x="1066" y="230" width="3" height="13" fill="#0000ff"/>
<rect x="1071" y="62" width="1" height="186" fill="#0000ff"/>
<rect x="1070" y="120" width="3" height="110" fill="#0000ff"/>
<rect x="1075" y="111" width="1" height="20" fill="#ff0000"/>
<rect x="1074" y="120" width="3" height="10" fill="#ff0000"/>
<rect x="1079" y="120" width="1" height="11" fill="#ff0000"/>
<rect x="1078" y="129" width="3" height="2" fill="#ff0000"/>
<rect x="1083" y="109" width="1" height="27" fill="#0000ff"/>
<rect x="1082" y="127" width="3" height="5" fill="#0000ff"/>
<rect x="1087" y="92" width="1" height="46" fill="#0000ff"/>
<rect x="1086" y="117" width="3" height="19" fill="#0000ff"/>
<rect x="1091" y="107" width="1" height="31" fill="#ff0000"/>
<rect x="1090" y="116" width="3" height="2" fill="#ff0000"/>
<rect x="1095" y="116" width="1" height="12" fill="#ff0000"/>
<rect x="1094" y="117" width="3" height="10" fill="#ff0000"/>
<rect x="1099" y="125" width="1" height="12" fill="#ff0000"/>
<rect x="1098" y="127" width="3" height="6" fill="#ff0000"/>
<rect x="1103" y="128" width="1" height="11" fill="#ff0000"/>
<rect x="1102" y="132" width="3" height="5" fill="#ff0000"/>
<rect x="1107" y="120" width="1" height="17" fill="#0000ff"/>
<rect x="1106" y="121" width="3" height="15" fill="#0000ff"/>
<rect x="1111" y="115" width="1" height="10" fill="#0000ff"/>
<rect x="1110" y="122" width="3" height="2" fill="#0000ff"/>
<rect x="1115" y="119" width="1" height="8" fill="#ff0000"/>
<rect x="1114" y="121" width="3" height="5" fill="#ff0000"/>
<rect x="1119" y="121" width="1" height="6" fill="#0000ff"/>
<rect x="1118" y="123" width="3" height="2" fill="#0000ff"/>
<rect x="1123" y="120" width="1" height="9" fill="#ff0000"/>
<rect x="1122" y="122" width="3" height="2" fill="#ff0000"/>
<rect x="1127" y="118" width="1" height="10" fill="#0000ff"/>
<rect x="1126" y="122" width="3" height="3" fill="#0000ff"/>
<rect x="1131" y="119" width="1" height="17" fill="#ff0000"/>
<rect x="1130" y="122" width="3" height="10" fill="#ff0000"/>
<rect x="1135" y="116" width="1" height="28" fill="#0000ff"/>
<rect x="1134" y="120" width="3" height="12" fill="#0000ff"/>
<rect x="1139" y="117" width="1" height="12" fill="#ff0000"/>
<rect x="1138" y="120" width="3" height="7" fill="#ff0000"/>
<rect x="1143" y="126" width="1" height="13" fill="#ff0000"/>
<rect x="1142" y="126" width="3" height="12" fill="#ff0000"/>
<rect x="1147" y="136" width="1" height="6" fill="#ff0000"/>
<rect x="1146" y="137" width="3" height="4" fill="#ff0000"/>
<rect x="1151" y="138" width="1" height="4" fill="#ff0000"/>
<rect x="1150" y="139" width="3" height="3" fill="#ff0000"/>
<rect x="1155" y="136" width="1" height="9" fill="#0000ff"/>
<rect x="1154" y="136" width="3" height="6" fill="#0000ff"/>
<rect x="1159" y="134" width="1" height="11" fill="#ff0000"/>
<rect x="1158" y="137" width="3" height="5" fill="#ff0000"/>
<rect x="1163" y="132" width="1" height="40" fill="#0000ff"/>
<rect x="1162" y="145" width="3" height="20" fill="#0000ff"/>
<rect x="1167" y="139" width="1" height="13" fill="#0000ff"/>
<rect x="1166" y="145" width="3" height="1" fill="#0000ff"/>
<rect x="1171" y="142" width="1" height="9" fill="#ff0000"/>
<rect x="1170" y="144" width="3" height="2" fill="#ff0000"/>
<rect x="1175" y="139" width="1" height="12" fill="#0000ff"/>
<rect x="1174" y="142" width="3" height="3" fill="#0000ff"/>
<rect x="1179" y="101" width="1" height="44" fill="#0000ff"/>
<rect x="1178" y="123" width="3" height="19" fill="#0000ff"/>
<rect x="611" y="21" width="705" height="1" fill="#ff00ff"/>
<line x1="611.5" y1="305.5" x2="1071.5" y2="62.5" stroke="#ff0000" stroke-width="1" stroke-dasharray="3 3"/>
<line x1="1071.5" y1="62.5" x2="1163.5" y2="172" stroke="#ff0000" stroke-width="1" stroke-dasharray="3 3"/>
<rect x="814" y="200" width="411" height="3" fill="#ff8c00"/>
<rect x="634" y="266" width="595" height="3" fill="#008000"/>
<line x1="299" y1="339" x2="1228" y2="242.6" stroke="#1e90ff" stroke-width="2"/>
<line x1="1071" y1="62" x2="1223.5" y2="181.5" stroke="#1e90ff" stroke-width="2"/>
<polyline points="2.9,522.2 7.3,520.7 11.0,513.8 16.2,515.9 22.8,515.9 24.2,514.5 30.8,514.5 35.0,525.8 39.6,530.2 47.0,536.1 54.3,532.9 60.2,526.6 69.0,525.8 74.9,521.9 79.3,522.2 83.4,525.8 88.1,523.6 91.8,525.8 99.1,525.8 104.3,528.8 110.1,533.5 115.3,533.9 118.9,521.9 123.3,522.2 135.1,522.9 138.8,524.1 143.2,521.1 146.8,523.6 151.2,524.1 159.3,530.0 165.9,526.6 171.1,522.6 174.7,527.0 179.1,526.1 183.5,525.1 195.0,525.0 197.2,523.8 203.1,522.8 211.9,530.8 219.2,531.1 222.9,533.0 226.6,528.9 236.1,528.9 239.8,531.9 244.2,531.9 247.9,526.9 251.5,526.9 255.2,524.2 261.1,518.4 268.4,515.0 275.0,514.7 276.5,513.7 280.2,512.9 286.8,512.5 288.2,511.7 291.9,511.7 298.5,522.8 303.7,523.8 308.1,523.8 311.7,517.6 315.4,517.2 319.8,517.2 322.8,518.6 332.3,518.6 335.2,523.1 343.3,515.9 347.7,519.8 352.9,520.9 358.7,519.5 363.9,522.8 368.3,523.8 379.3,523.8 381.5,522.8 386.6,523.8 391.8,527.9 395.1,527.9 396.6,526.7 400.3,526.9 404.0,530.8 409.1,533.0 413.5,533.8 420.1,537.0 425.2,536.7 430.4,531.1 433.3,531.1 435.5,531.9 440.7,527.6 443.6,527.9 448.0,528.9 453.1,526.0 459.7,526.0 464.2,521.7 470.8,518.6 473.7,517.6 482.5,518.1 486.2,518.8 490.6,525.0 494.3,525.0 497.9,522.8 507.5,522.8 511.9,525.3 515.5,519.8 520.7,517.6 525.1,517.9 529.5,516.9 534.6,516.6 539.8,514.0 544.2,512.9 549.3,513.2 553.0,516.9 558.9,530.1 564.0,533.8 571.4,533.8 573.6,532.6 576.5,533.8 583.8,533.8 585.0,534.9 587.2,537.9 590.9,538.2 594.5,540.8 599.0,541.1 603.4,545.5 607.0,545.8 610.7,530.8 614.4,529.4 621.7,523.5 625.4,521.3 628.3,521.3 631.3,525.7 643.7,526.0 648.1,523.9 652.5,523.5 657.0,521.0 664.3,519.8 667.2,523.8 672.4,519.8 677.5,520.3 682.7,525.0 687.1,525.3 692.2,528.6 698.1,530.1 702.5,530.8 708.3,528.9 715.0,528.9 721.6,525.0 726.7,530.1 731.8,530.1 735.5,525.7 743.6,521.3 748.0,523.5 751.7,524.2 755.3,530.8 759.7,531.1 766.3,534.9 773.0,534.9 777.4,532.6 780.3,532.3 782.9,530.1 788.1,530.1 791.0,525.0 794.7,533.8 800.6,533.8 805.7,530.8 810.8,531.1 812.3,531.9 819.6,531.6 822.6,520.6 827.7,519.8 831.4,517.6 839.5,519.1 847.5,528.6 854.9,528.9 858.6,531.6 865.2,531.6 868.1,530.1 874.0,529.1 879.1,532.6 884.3,533.8 891.6,537.9 897.5,534.9 902.6,537.9 910.0,537.4 915.8,531.1 919.5,530.5 925.4,523.8 934.2,522.8 940.1,521.7 943.0,519.8 946.7,523.8 954.7,525.0 962.1,529.4 967.2,530.1 973.8,534.1 979.0,533.1 987.1,541.2 991.2,536.8 994.4,538.0 999.2,541.7 1003.3,541.7 1007.3,540.4 1013.8,537.2 1018.6,538.0 1022.7,537.2 1026.7,529.1 1033.2,523.4 1044.5,522.9 1049.3,521.0 1054.2,521.8 1059.0,525.0 1063.9,527.5 1067.1,530.7 1071.1,511.6 1076.0,514.9 1083.2,514.9 1084.9,513.7 1090.5,514.2 1095.4,517.0 1102.6,520.2 1108.3,517.4 1113.1,518.1 1115.5,519.1 1124.4,518.6 1130.1,521.8 1134.9,520.7 1138.2,521.3 1143.8,526.7 1149.5,527.8 1154.3,526.7 1160.0,528.8 1166.4,529.1 1168.9,529.9 1173.7,529.4 1179.4,522.6" fill="none" stroke="#0000ff" stroke-width="2" stroke-linejoin="round"/>
<rect x="1318" y="118" width="41" height="11" fill="#000"/>
<polygon points="6,9 13,9 9.5,13" fill="#000"/>
<g shape-rendering="auto">
<text x="18.40" y="14" font-size="10" fill="#000" stroke="#000" stroke-width="0.2" textLength="55.00" lengthAdjust="spacingAndGlyphs">AUDNZD,H1</text>
<text x="79.10" y="14" font-size="10" fill="#000" stroke="#000" stroke-width="0.2" textLength="33.00" lengthAdjust="spacingAndGlyphs">1.06667</text>
<text x="115.10" y="14" font-size="10" fill="#000" stroke="#000" stroke-width="0.2" textLength="33.00" lengthAdjust="spacingAndGlyphs">1.06987</text>
<text x="150.80" y="14" font-size="10" fill="#000" stroke="#000" stroke-width="0.2" textLength="33.00" lengthAdjust="spacingAndGlyphs">1.06639</text>
<text x="187.00" y="14" font-size="10" fill="#000" stroke="#000" stroke-width="0.2" textLength="33.00" lengthAdjust="spacingAndGlyphs">1.06819</text>
<text x="1322.20" y="34" font-size="10" fill="#000" stroke="#000" stroke-width="0.2" textLength="33.00" lengthAdjust="spacingAndGlyphs">1.07535</text>
<text x="1322.20" y="67" font-size="10" fill="#000" stroke="#000" stroke-width="0.2" textLength="33.00" lengthAdjust="spacingAndGlyphs">1.07280</text>
<text x="1322.20" y="100" font-size="10" fill="#000" stroke="#000" stroke-width="0.2" textLength="33.00" lengthAdjust="spacingAndGlyphs">1.07025</text>
<text x="1322.20" y="133" font-size="10" fill="#000" stroke="#000" stroke-width="0.2" textLength="33.00" lengthAdjust="spacingAndGlyphs">1.06765</text>
<text x="1322.20" y="166" font-size="10" fill="#000" stroke="#000" stroke-width="0.2" textLength="33.00" lengthAdjust="spacingAndGlyphs">1.06510</text>
<text x="1322.20" y="199" font-size="10" fill="#000" stroke="#000" stroke-width="0.2" textLength="33.00" lengthAdjust="spacingAndGlyphs">1.06255</text>
<text x="1322.20" y="232" font-size="10" fill="#000" stroke="#000" stroke-width="0.2" textLength="33.00" lengthAdjust="spacingAndGlyphs">1.06000</text>
<text x="1322.20" y="265" font-size="10" fill="#000" stroke="#000" stroke-width="0.2" textLength="33.00" lengthAdjust="spacingAndGlyphs">1.05745</text>
<text x="1322.20" y="298" font-size="10" fill="#000" stroke="#000" stroke-width="0.2" textLength="33.00" lengthAdjust="spacingAndGlyphs">1.05490</text>
<text x="1322.20" y="331" font-size="10" fill="#000" stroke="#000" stroke-width="0.2" textLength="33.00" lengthAdjust="spacingAndGlyphs">1.05235</text>
<text x="1322.20" y="364" font-size="10" fill="#000" stroke="#000" stroke-width="0.2" textLength="33.00" lengthAdjust="spacingAndGlyphs">1.04980</text>
<text x="1322.20" y="397" font-size="10" fill="#000" stroke="#000" stroke-width="0.2" textLength="33.00" lengthAdjust="spacingAndGlyphs">1.04725</text>
<text x="1322.20" y="430" font-size="10" fill="#000" stroke="#000" stroke-width="0.2" textLength="33.00" lengthAdjust="spacingAndGlyphs">1.04470</text>
<text x="1322.20" y="463" font-size="10" fill="#000" stroke="#000" stroke-width="0.2" textLength="33.00" lengthAdjust="spacingAndGlyphs">1.04215</text>
<text x="1322.20" y="496" font-size="10" fill="#000" stroke="#000" stroke-width="0.2" textLength="33.00" lengthAdjust="spacingAndGlyphs">1.03960</text>
<text x="1301.30" y="61" font-size="10" fill="#000" stroke="#000" stroke-width="0.2" textLength="14.00" lengthAdjust="spacingAndGlyphs">0.0</text>
<text x="1296.80" y="151" font-size="10" fill="#000" stroke="#000" stroke-width="0.2" textLength="18.00" lengthAdjust="spacingAndGlyphs">23.6</text>
<text x="1296.80" y="207" font-size="10" fill="#000" stroke="#000" stroke-width="0.2" textLength="19.00" lengthAdjust="spacingAndGlyphs">38.2</text>
<text x="1296.80" y="252" font-size="10" fill="#000" stroke="#000" stroke-width="0.2" textLength="18.00" lengthAdjust="spacingAndGlyphs">50.0</text>
<text x="1296.80" y="298" font-size="10" fill="#000" stroke="#000" stroke-width="0.2" textLength="18.00" lengthAdjust="spacingAndGlyphs">61.8</text>
<text x="1291.30" y="444" font-size="10" fill="#000" stroke="#000" stroke-width="0.2" textLength="24.00" lengthAdjust="spacingAndGlyphs">100.0</text>
<text x="1282.20" y="19" font-size="10" fill="#ff00ff" stroke="#ff00ff" stroke-width="0.2" textLength="33.00" lengthAdjust="spacingAndGlyphs">FE&#160;61.8</text>
<text x="7.10" y="510" font-size="10" fill="#000" stroke="#000" stroke-width="0.2" textLength="31.00" lengthAdjust="spacingAndGlyphs">RSI(14)</text>
<text x="41.80" y="510" font-size="10" fill="#000" stroke="#000" stroke-width="0.2" textLength="33.00" lengthAdjust="spacingAndGlyphs">63.3735</text>
<text x="1320.10" y="508" font-size="10" fill="#000" stroke="#000" stroke-width="0.2" textLength="15.00" lengthAdjust="spacingAndGlyphs">100</text>
<text x="1319.00" y="522" font-size="10" fill="#000" stroke="#000" stroke-width="0.2" textLength="11.00" lengthAdjust="spacingAndGlyphs">70</text>
<text x="1319.00" y="547" font-size="10" fill="#000" stroke="#000" stroke-width="0.2" textLength="11.00" lengthAdjust="spacingAndGlyphs">30</text>
<text x="1319.80" y="560" font-size="10" fill="#000" stroke="#000" stroke-width="0.2" textLength="6.00" lengthAdjust="spacingAndGlyphs">0</text>
<text x="1.90" y="576" font-size="10" fill="#000" stroke="#000" stroke-width="0.2" textLength="46.00" lengthAdjust="spacingAndGlyphs">1&#160;Apr&#160;2019</text>
<text x="65.90" y="576" font-size="10" fill="#000" stroke="#000" stroke-width="0.2" textLength="49.00" lengthAdjust="spacingAndGlyphs">2&#160;Apr&#160;14:00</text>
<text x="129.90" y="576" font-size="10" fill="#000" stroke="#000" stroke-width="0.2" textLength="49.00" lengthAdjust="spacingAndGlyphs">3&#160;Apr&#160;06:00</text>
<text x="193.90" y="576" font-size="10" fill="#000" stroke="#000" stroke-width="0.2" textLength="49.00" lengthAdjust="spacingAndGlyphs">3&#160;Apr&#160;22:00</text>
<text x="257.90" y="576" font-size="10" fill="#000" stroke="#000" stroke-width="0.2" textLength="49.00" lengthAdjust="spacingAndGlyphs">4&#160;Apr&#160;14:00</text>
<text x="321.90" y="576" font-size="10" fill="#000" stroke="#000" stroke-width="0.2" textLength="49.00" lengthAdjust="spacingAndGlyphs">5&#160;Apr&#160;06:00</text>
<text x="385.90" y="576" font-size="10" fill="#000" stroke="#000" stroke-width="0.2" textLength="49.00" lengthAdjust="spacingAndGlyphs">5&#160;Apr&#160;22:00</text>
<text x="449.90" y="576" font-size="10" fill="#000" stroke="#000" stroke-width="0.2" textLength="49.00" lengthAdjust="spacingAndGlyphs">8&#160;Apr&#160;14:00</text>
<text x="513.90" y="576" font-size="10" fill="#000" stroke="#000" stroke-width="0.2" textLength="49.00" lengthAdjust="spacingAndGlyphs">9&#160;Apr&#160;06:00</text>
<text x="577.90" y="576" font-size="10" fill="#000" stroke="#000" stroke-width="0.2" textLength="49.00" lengthAdjust="spacingAndGlyphs">9&#160;Apr&#160;22:00</text>
<text x="641.90" y="576" font-size="10" fill="#000" stroke="#000" stroke-width="0.2" textLength="55.00" lengthAdjust="spacingAndGlyphs">10&#160;Apr&#160;14:00</text>
<text x="705.90" y="576" font-size="10" fill="#000" stroke="#000" stroke-width="0.2" textLength="55.00" lengthAdjust="spacingAndGlyphs">11&#160;Apr&#160;06:00</text>
<text x="769.90" y="576" font-size="10" fill="#000" stroke="#000" stroke-width="0.2" textLength="55.00" lengthAdjust="spacingAndGlyphs">11&#160;Apr&#160;22:00</text>
<text x="833.90" y="576" font-size="10" fill="#000" stroke="#000" stroke-width="0.2" textLength="55.00" lengthAdjust="spacingAndGlyphs">12&#160;Apr&#160;14:00</text>
<text x="897.90" y="576" font-size="10" fill="#000" stroke="#000" stroke-width="0.2" textLength="55.00" lengthAdjust="spacingAndGlyphs">15&#160;Apr&#160;06:00</text>
<text x="961.90" y="576" font-size="10" fill="#000" stroke="#000" stroke-width="0.2" textLength="55.00" lengthAdjust="spacingAndGlyphs">15&#160;Apr&#160;22:00</text>
<text x="1025.90" y="576" font-size="10" fill="#000" stroke="#000" stroke-width="0.2" textLength="55.00" lengthAdjust="spacingAndGlyphs">16&#160;Apr&#160;14:00</text>
<text x="1089.90" y="576" font-size="10" fill="#000" stroke="#000" stroke-width="0.2" textLength="55.00" lengthAdjust="spacingAndGlyphs">17&#160;Apr&#160;06:00</text>
<text x="1153.90" y="576" font-size="10" fill="#000" stroke="#000" stroke-width="0.2" textLength="55.00" lengthAdjust="spacingAndGlyphs">17&#160;Apr&#160;22:00</text>
<text x="1322.10" y="127" font-size="10" fill="#fff" stroke="#fff" stroke-width="0.2" textLength="33.00" lengthAdjust="spacingAndGlyphs">1.06819</text>
</g>
</svg></body></html>
